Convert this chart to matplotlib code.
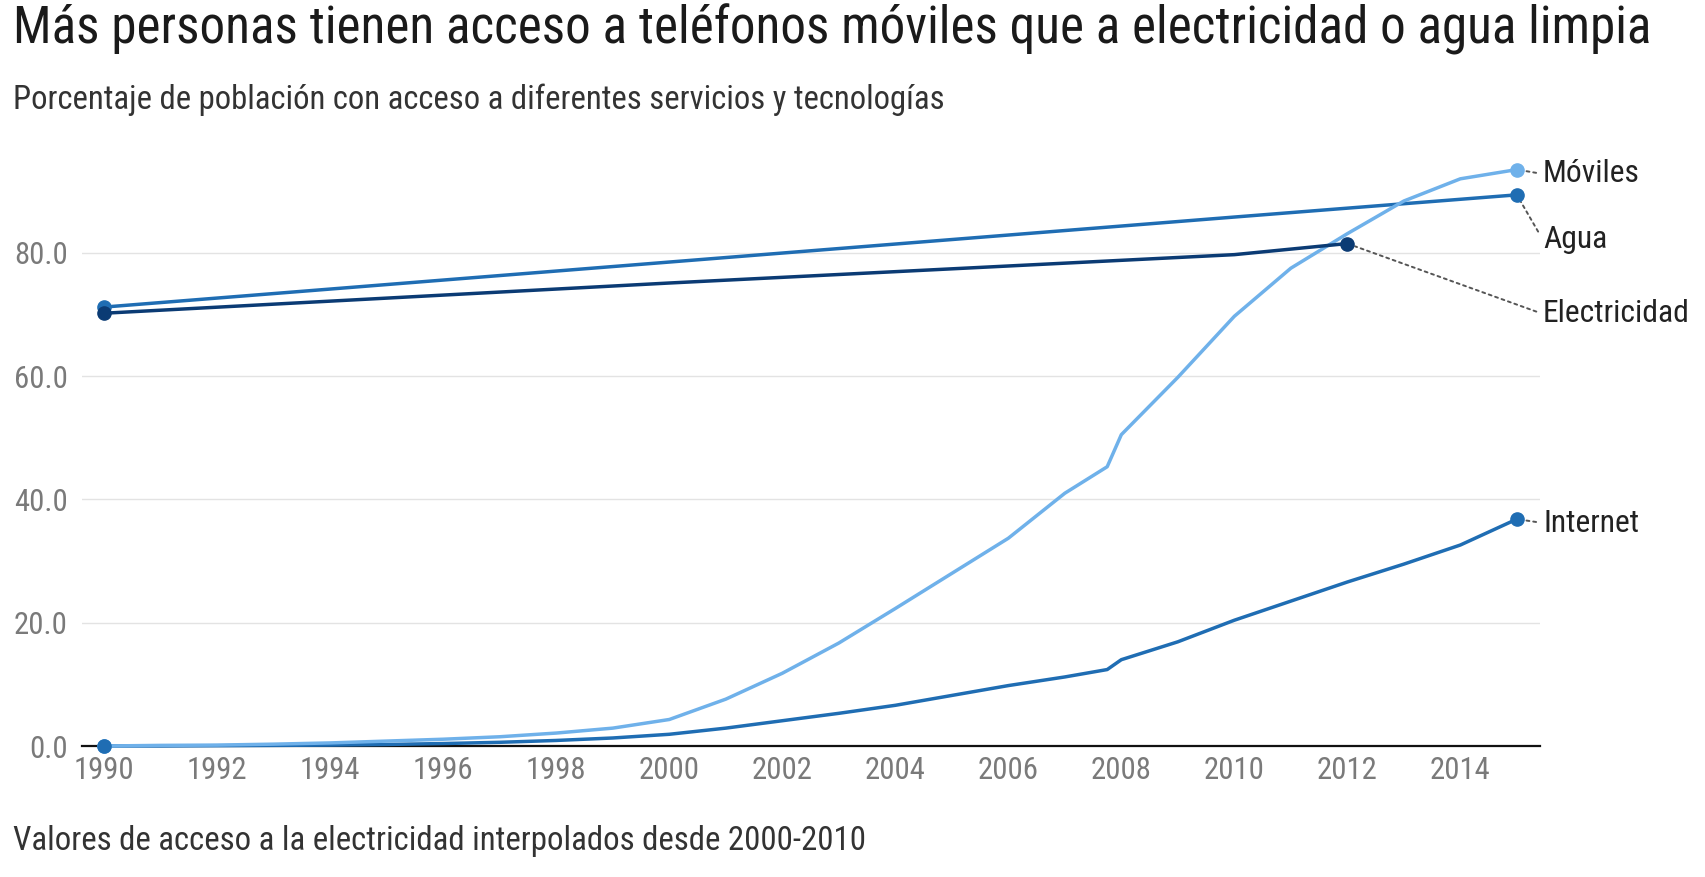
import matplotlib
matplotlib.use("Agg")
import matplotlib.pyplot as plt
import matplotlib.font_manager as fm

# ---------------- data ----------------
years_mi = [1990, 1991, 1992, 1993, 1994, 1995, 1996, 1997, 1998, 1999, 2000,
            2001, 2002, 2003, 2004, 2005, 2006, 2007, 2007.75, 2008, 2009,
            2010, 2011, 2012, 2013, 2014, 2015]
moviles = [0.0, 0.1, 0.15, 0.3, 0.5, 0.8, 1.1, 1.5, 2.1, 2.9, 4.3,
           7.6, 11.8, 16.7, 22.3, 28.0, 33.7, 41.0, 45.3, 50.5, 59.8,
           69.7, 77.5, 83.1, 88.4, 92.0, 93.5]
internet = [0.0, 0.0, 0.05, 0.1, 0.15, 0.25, 0.4, 0.6, 0.9, 1.3, 1.9,
            2.9, 4.1, 5.3, 6.6, 8.2, 9.8, 11.2, 12.4, 14.0, 16.9,
            20.4, 23.5, 26.6, 29.5, 32.6, 36.8]
years_agua = [1990, 2000, 2010, 2015]
agua = [71.2, 78.5, 85.8, 89.4]
years_elec = [1990, 2000, 2010, 2011, 2012]
electricidad = [70.2, 75.1, 79.7, 80.6, 81.5]

xticks = list(range(1990, 2015, 2))
yticks = [0, 20, 40, 60, 80]

title = "Más personas tienen acceso a teléfonos móviles que a electricidad o agua limpia"
subtitle = "Porcentaje de población con acceso a diferentes servicios y tecnologías"
footer = "Valores de acceso a la electricidad interpolados desde 2000-2010"

# ---------------- style ----------------
avail = {f.name for f in fm.fontManager.ttflist}
font = "DejaVu Sans"
for cand in ["Roboto Condensed", "Roboto", "Noto Sans"]:
    if cand in avail:
        font = cand
        break
plt.rcParams["font.family"] = [font, "DejaVu Sans"]

C_MOV = "#6fb1ea"
C_AGUA = "#1f6db3"
C_INT = "#1f6db3"
C_ELEC = "#0b3b74"

W, H = 1706, 877
fig = plt.figure(figsize=(W / 100, H / 100), dpi=100)
left, right, bottom, top = 81.7, 1540, 746, 129.5
ax = fig.add_axes([left / W, 1 - bottom / H, (right - left) / W, (bottom - top) / H])
ax.set_xlim(1989.6, 2015.41)
ax.set_ylim(0, 100)

for s in ["top", "right", "left"]:
    ax.spines[s].set_visible(False)
ax.spines["bottom"].set_color("#111111")
ax.spines["bottom"].set_linewidth(1.6)
ax.spines["bottom"].set_zorder(2)

ax.set_yticks(yticks)
ax.set_yticklabels([f"{v:.1f}" for v in yticks])
ax.set_xticks(xticks)
ax.set_xticklabels([str(v) for v in xticks])
ax.tick_params(axis="both", length=0, colors="#7a7a7a", labelsize=18)
ax.tick_params(axis="y", pad=10)
ax.tick_params(axis="x", pad=7)
ax.grid(axis="y", color="#e3e3e3", linewidth=1.0)
ax.grid(axis="x", visible=False)
ax.set_axisbelow(True)

lw = 2.5
ms = 9.5
# (x, y, colour, line zorder, start-marker zorder, end-marker zorder)
series = [
    (years_agua, agua, C_AGUA, 3, 7.0, 7.0),
    (years_mi, moviles, C_MOV, 5, 7.1, 7.1),
    (years_mi, internet, C_INT, 4, 7.2, 7.2),
    (years_elec, electricidad, C_ELEC, 6, 7.3, 7.3),
]
for xs, ys, c, z, zs, ze in series:
    ax.plot(xs, ys, color=c, lw=lw, zorder=z, solid_capstyle="round",
            solid_joinstyle="round", clip_on=False)
    ax.plot([xs[0]], [ys[0]], "o", color=c, ms=ms, zorder=zs, clip_on=False)
    ax.plot([xs[-1]], [ys[-1]], "o", color=c, ms=ms, zorder=ze, clip_on=False)

t_title = fig.text(13 / W, 1 - 43.5 / H, title, ha="left", va="baseline",
                   fontsize=30, color="#1a1a1a")
t_sub = fig.text(13 / W, 1 - 108.5 / H, subtitle, ha="left", va="baseline",
                 fontsize=20, color="#333333")
t_foot = fig.text(13 / W, 1 - 850 / H, footer, ha="left", va="baseline",
                  fontsize=20, color="#333333")

# fit text widths to the reference
fig.canvas.draw()
r = fig.canvas.get_renderer()


def fit(t, target):
    bb = t.get_window_extent(r)
    t.set_fontsize(t.get_fontsize() * target / bb.width)


fit(t_title, 1637)
fit(t_sub, 931)
fit(t_foot, 853)

# label font size from a probe text ("Electricidad" ~147 px wide)
probe = fig.text(0, 0, "Electricidad", fontsize=20)
fit(probe, 147)
fs_lab = probe.get_fontsize()
probe.remove()

# ---------------- labels with leader lines ----------------
lab_x = 1543
labels = [
    ("Móviles", years_mi[-1], moviles[-1], 174),
    ("Agua", years_agua[-1], agua[-1], 240),
    ("Electricidad", years_elec[-1], electricidad[-1], 314),
    ("Internet", years_mi[-1], internet[-1], 523),
]
for txt, xv, yv, ypix in labels:
    ax.annotate(txt, xy=(xv, yv), xycoords="data",
                xytext=(lab_x, H - ypix), textcoords="figure pixels",
                ha="left", va="center", fontsize=fs_lab, color="#222222",
                arrowprops=dict(arrowstyle="-", linestyle=(0, (1.5, 2.0)),
                                color="#555555", lw=1.4, shrinkA=3, shrinkB=6,
                                relpos=(0, 0.5)),
                annotation_clip=False)

# tick label size: "1990" ~61 px wide
xl = ax.get_xticklabels()[0]
bb = xl.get_window_extent(r)
fs_tick = 18 * 61 / bb.width
ax.tick_params(axis="both", labelsize=fs_tick)

fig.savefig("out.png", dpi=100, facecolor="white")
